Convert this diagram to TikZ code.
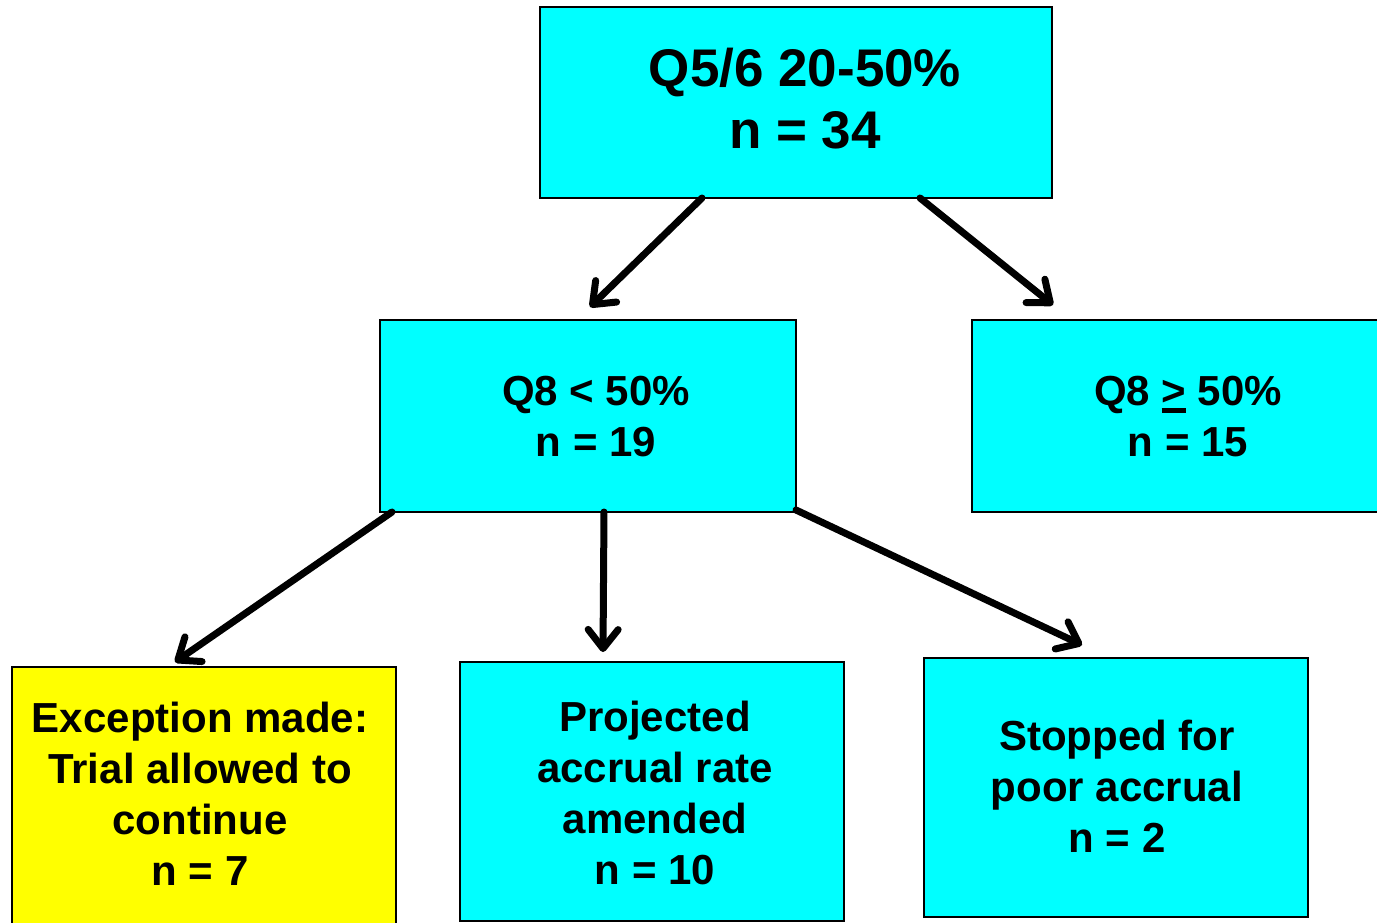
\documentclass[tikz,border=0pt]{standalone}
\usepackage{fontspec}
\setmainfont{Liberation Sans}
\usetikzlibrary{arrows.meta}
\definecolor{boxcyan}{HTML}{00FFFF}
\definecolor{boxyellow}{HTML}{FFFF00}
\newcommand{\thickunder}[1]{{\setbox0\hbox{#1}\rlap{\rule[-7pt]{\wd0}{5pt}}#1}}
\begin{document}
\begin{tikzpicture}[x=1pt,y=-1pt,
  box/.style={draw=black,line width=1.8pt,rectangle,inner sep=0pt,outer sep=0pt},
  bigtxt/.style={align=center,inner sep=0pt,font=\bfseries\fontsize{53}{62}\selectfont},
  txt/.style={align=center,inner sep=0pt,font=\bfseries\fontsize{42}{51}\selectfont},
  arr/.style={line width=7pt,line cap=round,-{Straight Barb[length=19pt,width=30pt,line width=7pt,line cap=round,line join=round]}}
]
\useasboundingbox (0,0) rectangle (1377,923);
% boxes
\node[box,fill=boxcyan,minimum width=512pt,minimum height=191pt] (top) at (796,102.5) {};
\node[box,fill=boxcyan,minimum width=416pt,minimum height=192pt] (q8l) at (588,416) {};
\node[box,fill=boxcyan,minimum width=413pt,minimum height=192pt] (q8r) at (1178.5,416) {};
\node[box,fill=boxyellow,minimum width=384pt,minimum height=263pt] (exc) at (204,798.5) {};
\node[box,fill=boxcyan,minimum width=384pt,minimum height=259pt] (proj) at (652,791.5) {};
\node[box,fill=boxcyan,minimum width=384pt,minimum height=259pt] (stop) at (1116,787.5) {};
% texts
\node[bigtxt] (toptxt) at (805,99) {Q5/6 20-50\%\\n = 34};
\node[txt] (q8ltxt) at (596,417) {Q8 < 50\%\\n = 19};
\node[txt] (q8rtxt) at (1188,417) {Q8 \thickunder{>} 50\%\\n = 15};
\node[txt] (exctxt) at (200,794) {Exception made:\\Trial allowed to\\continue\\n = 7};
\node[txt] (projtxt) at (655,793) {Projected\\accrual rate\\amended\\n = 10};
\node[txt] (stoptxt) at (1117,786) {Stopped for\\poor accrual\\n = 2};
% connectors
\draw[arr] ([xshift=-94pt]top.south) -- ([xshift=2pt,yshift=13pt]q8l.north);
\draw[arr] ([xshift=124pt]top.south) -- ([xshift=-125.5pt,yshift=15pt]q8r.north);
\draw[arr] ([xshift=-196pt]q8l.south) -- ([xshift=-29pt,yshift=5pt]exc.north);
\draw[arr] ([xshift=16pt]q8l.south) -- ([xshift=-49pt,yshift=10pt]proj.north);
\draw[arr] ([yshift=2pt]q8l.south east) -- ([xshift=-34pt,yshift=13pt]stop.north);
\end{tikzpicture}
\end{document}
